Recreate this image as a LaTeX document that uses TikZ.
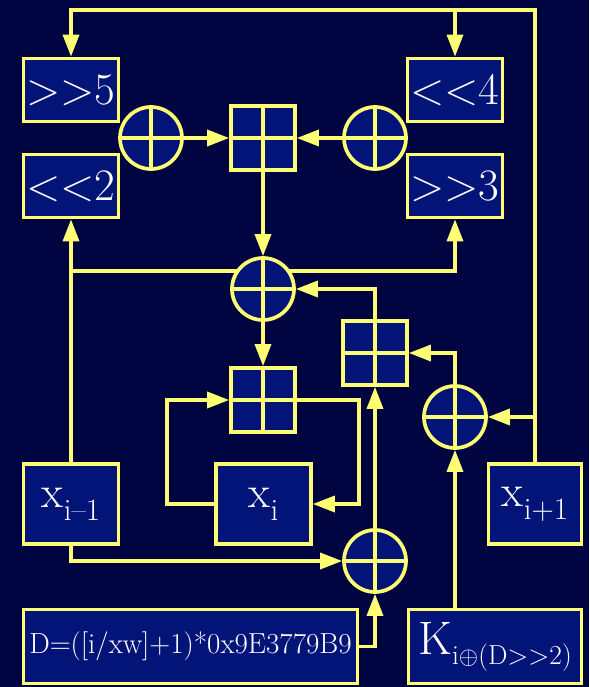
\documentclass[tikz,border=0pt]{standalone}
\usetikzlibrary{arrows.meta,calc}
\definecolor{bgc}{HTML}{000440}
\definecolor{boxc}{HTML}{031478}
\definecolor{yel}{HTML}{FFFF73}
\newcommand\bigf{\fontsize{45}{45}\selectfont}
\newcommand\lowsub[2][13pt]{\raisebox{-#1}{\fontsize{31}{31}\selectfont #2}}
\pgfdeclarelayer{back}
\pgfsetlayers{back,main}
\begin{document}
\begin{tikzpicture}[x=1pt,y=-1pt,
  conn/.style={draw=yel,line width=3.4pt},
  arr/.style={conn,-{Triangle[length=22pt,width=16pt]}},
  opbox/.style={draw=yel,fill=boxc,line width=3.7pt,text=white,minimum width=95pt,minimum height=63pt,inner sep=0pt,font=\bigf},
  crossed/.style={path picture={\draw[yel,line width=3.5pt]
      (path picture bounding box.north)--(path picture bounding box.south)
      (path picture bounding box.west)--(path picture bounding box.east);}},
  xorc/.style={circle,draw=yel,fill=boxc,line width=3.7pt,minimum size=62pt,inner sep=0pt,crossed},
  addsq/.style={rectangle,draw=yel,fill=boxc,line width=3.7pt,minimum size=64pt,inner sep=0pt,crossed}]
\begin{pgfonlayer}{back}
\fill[bgc] (0,0) rectangle (589,687);
\end{pgfonlayer}
\useasboundingbox (0,0) rectangle (589,687);

% operation boxes
\node[opbox] (sr5) at (71,90) {>{}>5};
\node[opbox] (sl2) at (71,186) {<{}<2};
\node[opbox] (sl4) at (455,90) {<{}<4};
\node[opbox] (sr3) at (455,186) {>{}>3};
% xor / add
\node[xorc] (xtl) at (151,138) {};
\node[addsq] (addt) at (263,138) {};
\node[xorc] (xtr) at (375,138) {};
\node[xorc] (xm) at (263,289) {};
\node[addsq] (add2) at (375,353) {};
\node[addsq] (addm) at (263,400) {};
\node[xorc] (xr) at (455,417) {};
\node[xorc] (xb) at (375,561) {};
% inputs
\node[opbox,minimum height=80pt] (xim1) at (71,504) {x\lowsub{i–1}};
\node[opbox,minimum height=80pt] (xi) at (263.5,504) {x\lowsub{i}};
\node[opbox,minimum height=80pt,minimum width=93pt] (xip1) at (535,504) {x\lowsub{i+1}};
\node[opbox,minimum width=334pt,minimum height=74pt,font=\fontsize{29}{29}\selectfont] (D) at (190.5,646.5) {D=([i/xw]+1)*0x9E3779B9};
\node[opbox,minimum width=173pt,minimum height=74pt,font=\fontsize{47}{47}\selectfont] (K) at (495,646.5) {K\raisebox{-10pt}{\fontsize{27.5}{27.5}\selectfont i$\oplus$(D>{}>2)}};

\coordinate (tr) at (535,10);
\coordinate (br) at (70,271);
\coordinate (lp) at (167,504);
\coordinate (rp) at (359,400);

\begin{pgfonlayer}{back}
\draw[arr] (xip1.north) -- (tr) -| (sr5.north);
\draw[arr] (sl4.north |- tr) -- (sl4.north);
\draw[arr] (xip1.north |- xr.east) -- (xr.east);
\draw[arr] (xtl.east) -- (addt.west);
\draw[arr] (xtr.west) -- (addt.east);
\draw[arr] (addt.south) -- (xm.north);
\draw[arr] (xm.south) -- (addm.north);
\draw[arr] (add2.north) |- (xm.east);
\draw[arr] (xr.north) |- (add2.east);
\draw[arr] (K.north -| xr.south) -- (xr.south);
\draw[arr] (xb.north) -- (add2.south);
\draw[arr] (xim1.south) |- (xb.west);
\draw[arr] (D.east) -| (xb.south);
\draw[arr] (xim1.north) -- (sl2.south);
\draw[arr] (br) -| (sr3.south);
\draw[arr] (xi.west) -- (lp) |- (addm.west);
\draw[arr] (addm.east) -- (rp) |- (xi.east);
\end{pgfonlayer}
\end{tikzpicture}
\end{document}
